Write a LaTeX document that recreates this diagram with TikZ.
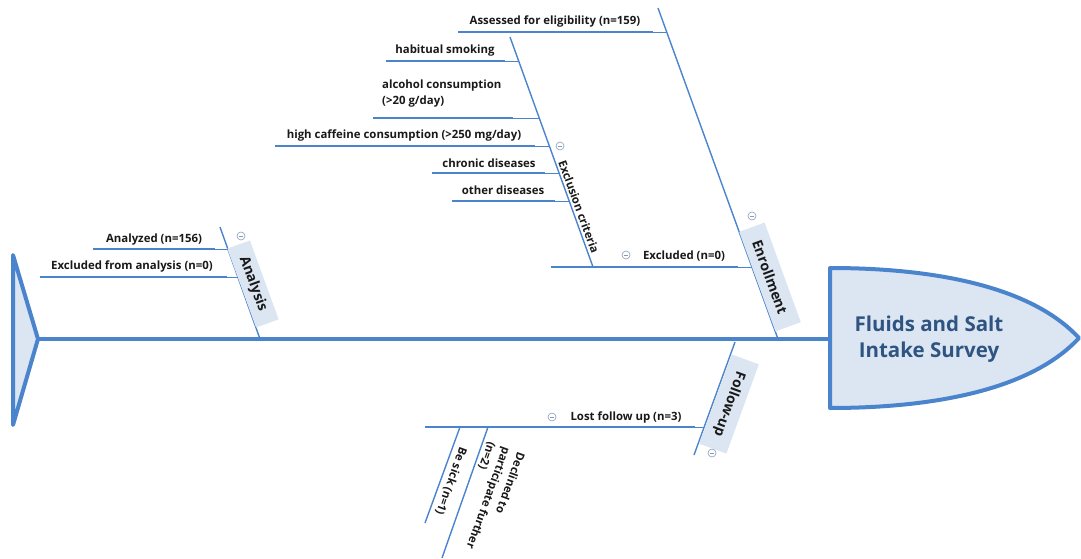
\documentclass[tikz,border=0pt]{standalone}
\usepackage{fontspec}
\setmainfont{Open Sans}
\usetikzlibrary{positioning, calc}
\definecolor{boneblue}{RGB}{74,132,204}
\definecolor{boxfill}{RGB}{220,230,242}
\definecolor{headtext}{RGB}{47,84,130}
\definecolor{foldgray}{RGB}{135,155,185}
\definecolor{labeltext}{RGB}{25,25,25}

\begin{document}
\begin{tikzpicture}[x=1pt, y=-1pt,
    bone/.style={draw=boneblue, line width=1.4pt},
    twig/.style={draw=boneblue, line width=2.6pt},
    joint/.style={draw=boneblue, line width=0.9pt},
    lbl/.style={font=\bfseries\fontsize{11.4}{15.5}\selectfont, text=labeltext, inner sep=1pt},
    bonebox/.style={rectangle, fill=boxfill, inner sep=0pt, font=\bfseries\fontsize{14}{16}\selectfont, text=labeltext},
    fold/.style={circle, draw=foldgray, line width=0.6pt, minimum size=8pt, inner sep=0pt,
        path picture={\draw[foldgray, line width=0.6pt] ([xshift=2pt]path picture bounding box.west) -- ([xshift=-2pt]path picture bounding box.east);}}
]
    \useasboundingbox (0,0) rectangle (1081,559);

    % Tail and head
    \filldraw[fill=boxfill, draw=boneblue, line width=4pt, line join=round] (13,255) -- (38,339) -- (13,425) -- cycle;
    \coordinate (tail) at (38,339);
    \filldraw[fill=boxfill, draw=boneblue, line width=4pt, line join=round] (830,268) .. controls (930,268) and (1030,285) .. (1079,338) .. controls (1030,391) and (930,408) .. (830,408) -- cycle;
    \coordinate (head) at (830,339);
    \node[font=\bfseries\fontsize{20.5}{26}\selectfont, text=headtext, align=center] (survey) at (929,339) {Fluids and Salt\\Intake Survey};
    \draw[draw=boneblue, line width=3.5pt] (tail) -- (head);

    % Enrollment
    \coordinate (en1) at (658,8);
    \coordinate (en2) at (778,339);
    \draw[bone] (en1) -- (en2);
    \node[bonebox, rotate=-70, minimum width=106pt, minimum height=27pt] (enroll) at (770,277) {Enrollment};
    \node[fold] (fen) at (752,216) {};

    \coordinate (as1) at (458,32);
    \coordinate (as2) at (653,32);
    \coordinate (as3) at (667,32);
    \draw[twig] (as1) -- (as2);
    \draw[joint] (as2) -- (as3);
    \node[lbl] (assessed) at (555,22) {Assessed for eligibility (n=159)};

    \coordinate (ex1) at (551,267);
    \coordinate (ex2) at (738,267);
    \coordinate (ex3) at (752,267);
    \draw[twig] (ex1) -- (ex2);
    \draw[joint] (ex2) -- (ex3);
    \node[lbl] (excluded) at (684,256) {Excluded (n=0)};
    \node[fold] (fex) at (626,255) {};

    % Exclusion criteria
    \coordinate (ec1) at (510,37);
    \coordinate (ec2) at (593,267);
    \draw[bone] (ec1) -- (ec2);
    \node[lbl, rotate=-70] (criteria) at (579,207) {Exclusion criteria};
    \node[fold] (fec) at (560,146) {};

    \draw[twig] (386,61) coordinate (hs1) -- (505,61) coordinate (hs2);
    \draw[joint] (hs2) -- (519,61);
    \node[lbl] (smoking) at (445,51) {habitual smoking};

    \draw[twig] (373,118) coordinate (al1) -- (513,118) coordinate (al2);
    \draw[joint] (al2) -- (539,118);
    \node[lbl, align=left, anchor=west] (alcohol) at (381,93.5) {alcohol consumption\\(>20 g/day)};

    \draw[twig] (275,146) coordinate (cf1) -- (535,146) coordinate (cf2);
    \draw[joint] (cf2) -- (549,146);
    \node[lbl] (caffeine) at (404,136) {high caffeine consumption (>250 mg/day)};

    \draw[twig] (432,173) coordinate (cd1) -- (545,173) coordinate (cd2);
    \draw[joint] (cd2) -- (559,173);
    \node[lbl] (chronic) at (489,163) {chronic diseases};

    \draw[twig] (452,201) coordinate (od1) -- (555,201) coordinate (od2);
    \draw[joint] (od2) -- (569,201);
    \node[lbl] (other) at (503,190) {other diseases};

    % Analysis
    \coordinate (an1) at (220,227);
    \coordinate (an2) at (260,339);
    \draw[bone] (an1) -- (an2);
    \node[bonebox, rotate=-70, minimum width=84pt, minimum height=24pt] (analysis) at (253,284) {Analysis};
    \node[fold] (fan) at (241,236) {};

    \draw[twig] (93,249) coordinate (az1) -- (215,249) coordinate (az2);
    \draw[joint] (az2) -- (228,249);
    \node[lbl] (analyzed) at (154,240) {Analyzed (n=156)};

    \draw[twig] (40,277) coordinate (ea1) -- (227,277) coordinate (ea2);
    \draw[joint] (ea2) -- (238,277);
    \node[lbl] (exanalysis) at (132,267) {Excluded from analysis (n=0)};

    % Follow-up
    \coordinate (fu1) at (735,342);
    \coordinate (fu2) at (694,455);
    \draw[bone] (fu1) -- (fu2);
    \node[bonebox, rotate=-110, minimum width=95pt, minimum height=29pt] (followup) at (729,404) {Follow-up};
    \node[fold] (ffu) at (712,453) {};

    \draw[twig] (425,427) coordinate (lf1) -- (695,427) coordinate (lf2);
    \draw[joint] (lf2) -- (704,427);
    \node[lbl] (lost) at (626,418) {Lost follow up (n=3)};
    \node[fold] (flf) at (552,417) {};

    \draw[bone] (460,427) coordinate (bs1) -- (425,523) coordinate (bs2);
    \node[lbl, rotate=-110] (sick) at (451,481) {Be sick (n=1)};

    \draw[bone] (488,427) coordinate (dc1) -- (442,558) coordinate (dc2);
    \node[lbl, rotate=-110, align=left] (declined) at (488,498) {Declined to\\participate further\\(n=2)};

\end{tikzpicture}
\end{document}
